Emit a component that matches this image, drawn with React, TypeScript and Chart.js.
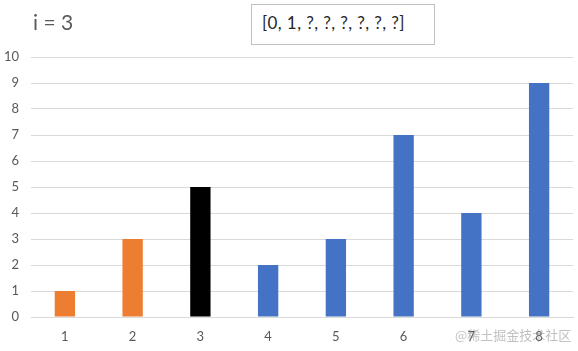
import React, { useEffect, useRef } from "react";
import { Chart, registerables } from "chart.js";

Chart.register(...registerables);

const categories = ["1", "2", "3", "4", "5", "6", "7", "8"];
const values = [1, 3, 5, 2, 3, 7, 4, 9];
const barColors = ["#ED7D31", "#ED7D31", "#000000", "#4472C4", "#4472C4", "#4472C4", "#4472C4", "#4472C4"];
const titleText = "i = 3";
const boxText = "[0, 1, ?, ?, ?, ?, ?, ?]";
const watermark = "@稀土掘金技术社区";
const yMin = 0;
const yMax = 10;
const yStep = 1;

const FONT = "Lato, 'Open Sans', sans-serif";

export default function App() {
  const ref = useRef<HTMLCanvasElement | null>(null);

  useEffect(() => {
    document.body.style.margin = "0";
    const ctx = ref.current;
    if (!ctx) return;
    const chart = new Chart(ctx, {
      type: "bar",
      data: {
        labels: categories,
        datasets: [
          {
            data: values,
            backgroundColor: barColors,
            borderWidth: 0,
            categoryPercentage: 1,
            barPercentage: 0.3,
          },
        ],
      },
      options: {
        animation: false,
        responsive: false,
        maintainAspectRatio: false,
        layout: { padding: { top: 57, right: 5, left: 0, bottom: 0 } },
        plugins: { legend: { display: false }, tooltip: { enabled: false }, title: { display: false } },
        scales: {
          x: {
            grid: { display: false, drawTicks: false },
            border: { display: true, color: "#d9d9d9", width: 1 },
            ticks: { color: "#595959", font: { family: FONT, size: 13 }, padding: 12 },
            afterFit: (s: any) => {
              s.height = 34;
            },
          },
          y: {
            min: yMin,
            max: yMax,
            grid: { color: "#d9d9d9", drawTicks: false, lineWidth: 1 },
            border: { display: false },
            ticks: { stepSize: yStep, color: "#595959", font: { family: FONT, size: 13 }, padding: 12 },
            afterFit: (s: any) => {
              s.width = 31;
            },
          },
        },
      },
    });
    return () => chart.destroy();
  }, []);

  return (
    <div style={{ position: "absolute", left: 0, top: 0, width: 578, height: 351, background: "#fff", overflow: "hidden" }}>
      <canvas ref={ref} width={578} height={351} style={{ position: "absolute", left: 0, top: 0 }} />
      <div
        style={{
          position: "absolute",
          left: 33,
          top: 9,
          fontFamily: FONT,
          fontSize: 21,
          lineHeight: "26px",
          color: "#595959",
          whiteSpace: "pre",
        }}
      >
        {titleText}
      </div>
      <div
        style={{
          position: "absolute",
          left: 251,
          top: 4,
          width: 182,
          height: 39,
          border: "1px solid #bfbfbf",
          background: "#fff",
          boxSizing: "content-box",
        }}
      >
        <div
          style={{
            position: "absolute",
            left: 10,
            top: 8,
            fontFamily: FONT,
            fontSize: 17,
            letterSpacing: "0.4px",
            lineHeight: "20px",
            color: "#262626",
            whiteSpace: "pre",
          }}
        >
          {boxText}
        </div>
      </div>
      <div
        style={{
          position: "absolute",
          left: 455,
          top: 326,
          fontFamily: "'Noto Sans CJK SC', sans-serif",
          fontSize: 13,
          lineHeight: "18px",
          color: "rgba(140,140,140,0.55)",
          whiteSpace: "pre",
        }}
      >
        {watermark}
      </div>
    </div>
  );
}
